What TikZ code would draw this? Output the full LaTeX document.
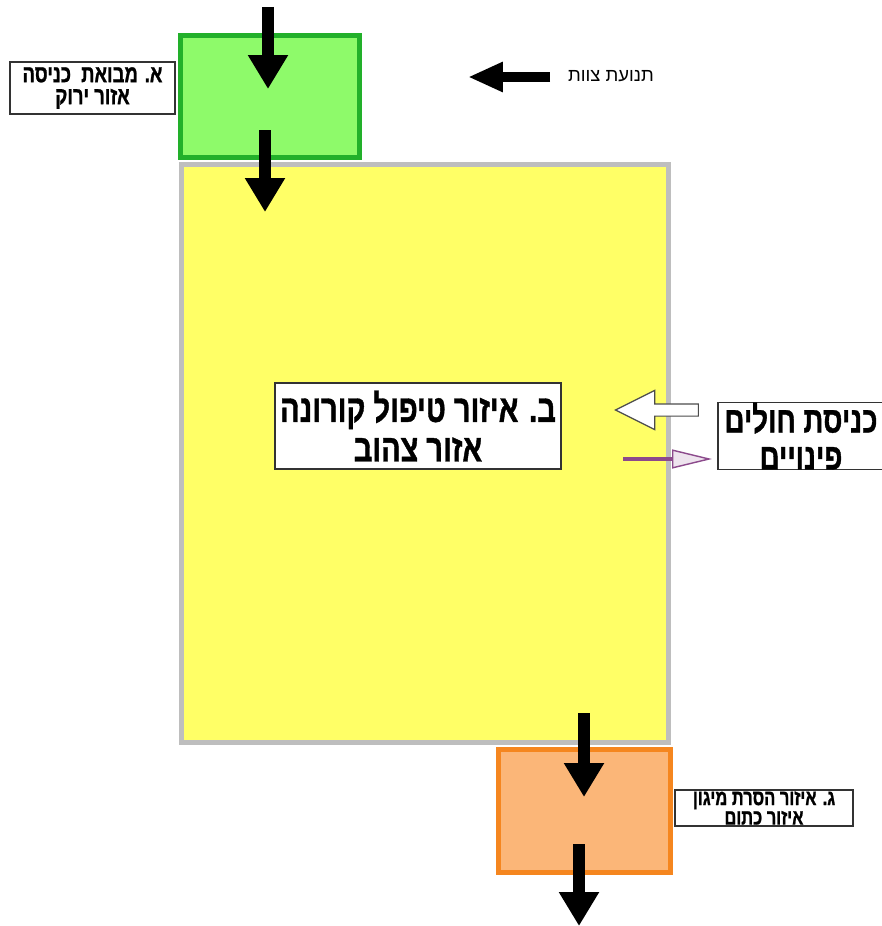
\documentclass[tikz,border=0pt]{standalone}
\usepackage{fontspec}
\setmainfont{Liberation Sans}
\newfontfamily\hebfont[Script=Hebrew]{Liberation Sans}
\newfontfamily\hebtall[Script=Hebrew,FakeStretch=0.75,FakeBold=1]{Liberation Sans}
\TeXXeTstate=1
\usetikzlibrary{arrows.meta,shapes.arrows}
\newcommand{\rtl}[1]{\beginR #1\endR}
\definecolor{greenfill}{HTML}{8EFA6A}
\definecolor{greenline}{HTML}{22B02A}
\definecolor{yellowfill}{HTML}{FFFF66}
\definecolor{yellowline}{HTML}{BEBEBE}
\definecolor{orangefill}{HTML}{FBB678}
\definecolor{orangeline}{HTML}{F5861F}
\definecolor{purpleline}{HTML}{8C4A8C}

\begin{document}
\begin{tikzpicture}[x=0.02cm,y=-0.02cm,
  zone/.style={draw,line width=0.1cm,inner sep=0pt},
  tag/.style={draw=black!80,fill=white,line width=0.8pt,align=center,inner sep=0pt,font=\hebtall\bfseries},
  flow/.style={line width=0.24cm,-{Triangle[width=0.76cm,length=0.68cm]}}]
\clip (0,0) rectangle (882,926);
\fill[white] (0,0) rectangle (882,926);
\node[zone,fill=yellowfill,draw=yellowline,minimum width=9.76cm,minimum height=11.58cm] (yellow) at (425,453.5) {};
\node[zone,fill=greenfill,draw=greenline,minimum width=3.6cm,minimum height=2.46cm] (green) at (270,96.5) {};
\node[zone,fill=orangefill,draw=orangeline,minimum width=3.46cm,minimum height=2.48cm] (orange) at (584.5,811) {};
\node[tag,minimum width=3.3cm,minimum height=1.04cm,font=\hebtall\bfseries\fontsize{14}{12.5}\selectfont] (tagA) at (92.5,88) {\rtl{א. מבואת\ \ כניסה}\\\rtl{אזור ירוק}};
\node[tag,minimum width=5.72cm,minimum height=1.72cm,font=\hebtall\bfseries\fontsize{22}{22.5}\selectfont] (tagB) at (418,426) {\rtl{ב. איזור טיפול קורונה}\\\rtl{אזור צהוב}};
\node[tag,minimum width=3.32cm,minimum height=1.32cm,font=\hebtall\bfseries\fontsize{21}{21}\selectfont] (tagR) at (801,436) {\rtl{כניסת חולים}\\\rtl{פינויים}};
\node[tag,minimum width=3.56cm,minimum height=0.72cm,font=\hebtall\bfseries\fontsize{12.5}{10}\selectfont] (tagC) at (764,808) {\rtl{ג. איזור הסרת מיגון}\\\rtl{איזור כתום}};
\node[font=\hebfont\fontsize{10.5}{12}\selectfont] (staff) at (611,76) {\rtl{תנועת צוות}};
\coordinate (inA) at (268,7);
\coordinate (inB) at (268,89);
\coordinate (inC) at (265,130);
\coordinate (inD) at (265,212);
\coordinate (outA) at (584,713);
\coordinate (outB) at (584,797);
\coordinate (outC) at (579,844);
\coordinate (outD) at (579,926);
\coordinate (staffA) at (550,77);
\coordinate (staffB) at (468,77);
\coordinate (evacA) at (623,459);
\coordinate (evacB) at (712,459);
\draw[flow] (inA) -- (inB);
\draw[flow] (inC) -- (inD);
\draw[flow] (outA) -- (outB);
\draw[flow] (outC) -- (outD);
\draw[line width=0.2cm,-{Triangle[width=0.56cm,length=0.7cm]}] (staffA) -- (staffB);
\node[single arrow,draw=black!70,fill=white,line width=0.7pt,inner sep=0.11cm,minimum height=1.66cm,single arrow head extend=0.27cm,single arrow tip angle=53,shape border rotate=180] (patients) at (663,410) {};
\draw[purpleline,line width=0.08cm,-{Triangle[color=purpleline,fill=purpleline!15,line width=0.8pt,width=0.38cm,length=0.8cm]}] (evacA) -- (evacB);
\end{tikzpicture}
\end{document}
